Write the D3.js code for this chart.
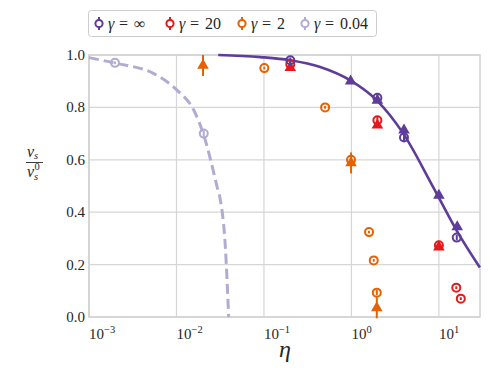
<!DOCTYPE html>
<html>
<head>
<meta charset="utf-8">
<script src="https://cdn.jsdelivr.net/npm/d3@7"></script>
<style>
  body { margin: 0; background: #fff; }
</style>
</head>
<body>
<div id="chart"></div>
<script>
var width = 490, height = 368
var margin = {top: 55, right: 10, bottom: 51, left: 89}
var serif = "'Liberation Serif', 'Times New Roman', Times, 'DejaVu Serif', serif"

// tick values
var xTicks = [1e-3, 1e-2, 1e-1, 1, 10]
var xTickExp = ['\u22123', '\u22122', '\u22121', '0', '1']
var yTicks = [0, 0.2, 0.4, 0.6, 0.8, 1.0]

// gamma = inf model curve
var curveInfEta = [0.030, 0.091, 0.20, 0.44, 0.97, 1.95, 3.92, 8.6, 15.9, 29.4]
var curveInfV = [1.0, 0.992, 0.980, 0.954, 0.903, 0.827, 0.70, 0.496, 0.331, 0.189]

// gamma = 0.04 model curve (dashed)
var curveLowEta = [0.001, 0.00198, 0.00551, 0.0102, 0.0158, 0.0205, 0.0292, 0.0318, 0.0362, 0.0395]
var curveLowV = [0.99, 0.969, 0.929, 0.865, 0.789, 0.694, 0.496, 0.445, 0.267, 0.0]

// gamma = inf points
var infCircEta = [0.2, 1.98, 3.99, 16.0]
var infCircV = [0.98, 0.837, 0.685, 0.303]
var infCircErr = [0.01, 0.012, 0.015, 0.01]
var infTriEta = [0.98, 1.98, 3.99, 10.0, 16.2]
var infTriV = [0.90, 0.827, 0.713, 0.464, 0.344]
var infTriErr = [0.01, 0.01, 0.02, 0.01, 0.01]

// gamma = 20 points
var redCircEta = [0.2, 1.98, 10.0, 15.8, 17.8]
var redCircV = [0.965, 0.751, 0.274, 0.112, 0.070]
var redCircErr = [0.01, 0.015, 0.01, 0.005, 0.005]
var redTriEta = [0.2, 1.98, 10.0]
var redTriV = [0.952, 0.732, 0.267]
var redTriErr = [0.01, 0.01, 0.01]

// gamma = 2 points
var orCircEta = [0.101, 0.50, 0.99, 1.59, 1.80, 1.95]
var orCircV = [0.95, 0.80, 0.60, 0.324, 0.216, 0.093]
var orCircErr = [0.005, 0.005, 0.02, 0.005, 0.005, 0.01]
var orTriEta = [0.0201, 0.99, 1.95]
var orTriV = [0.96, 0.588, 0.035]
var orTriErr = [0.04, 0.04, 0.04]

// gamma = 0.04 points
var lavCircEta = [0.00198, 0.0205]
var lavCircV = [0.97, 0.70]
var lavCircErr = [0.005, 0.01]

var cInf = '#5e3c99', cRed = '#e31a1c', cOr = '#e66101', cLav = '#b2abd2'

var legendLabels = ['\u221e', '20', '2', '0.04']
var legendColors = [cInf, cRed, cOr, cLav]

var svg = d3.select('#chart')
  .append('svg')
  .attr('width', width)
  .attr('height', height)
  .style('font-family', serif)

var xScale = d3.scaleLog()
  .domain([1e-3, 29.5])
  .range([margin.left, width - margin.right])

var yScale = d3.scaleLinear()
  .domain([0, 1])
  .range([height - margin.bottom, margin.top])

// grid
svg.append('g')
  .selectAll('line')
  .data(xTicks)
  .enter()
  .append('line')
  .attr('x1', d => xScale(d)).attr('x2', d => xScale(d))
  .attr('y1', yScale(0)).attr('y2', yScale(1))
  .attr('stroke', '#d6d6d6').attr('stroke-width', 1.2)

svg.append('g')
  .selectAll('line')
  .data(yTicks)
  .enter()
  .append('line')
  .attr('x1', xScale.range()[0]).attr('x2', xScale.range()[1])
  .attr('y1', d => yScale(d)).attr('y2', d => yScale(d))
  .attr('stroke', '#d6d6d6').attr('stroke-width', 1.2)

// frame
svg.append('rect')
  .attr('x', xScale.range()[0])
  .attr('y', yScale(1))
  .attr('width', xScale.range()[1] - xScale.range()[0])
  .attr('height', yScale(0) - yScale(1))
  .attr('fill', 'none')
  .attr('stroke', '#d0d0d0')
  .attr('stroke-width', 1.5)

// tick labels
svg.append('g')
  .selectAll('text')
  .data(yTicks)
  .enter()
  .append('text')
  .attr('x', margin.left - 4)
  .attr('y', d => yScale(d) + 5)
  .attr('text-anchor', 'end')
  .attr('font-size', 15)
  .attr('fill', '#262626')
  .text(d => d.toFixed(1))

var xl = svg.append('g')
  .selectAll('text')
  .data(xTicks)
  .enter()
  .append('text')
  .attr('x', d => xScale(d))
  .attr('y', 339)
  .attr('font-size', 15)
  .attr('fill', '#262626')
xl.append('tspan').text('10')
xl.append('tspan')
  .attr('dy', -6)
  .attr('font-size', 10.5)
  .text((d, i) => xTickExp[i])

// axis labels
svg.append('text')
  .attr('x', 285)
  .attr('y', 357)
  .attr('text-anchor', 'middle')
  .attr('font-size', 24)
  .attr('font-style', 'italic')
  .attr('fill', '#262626')
  .text('\u03b7')

var num = svg.append('text')
  .attr('x', 27).attr('y', 157)
  .attr('font-size', 16).attr('font-style', 'italic')
  .attr('fill', '#262626')
num.append('tspan').text('v')
num.append('tspan').attr('dy', 2).attr('font-size', 10.5).text('s')
svg.append('line')
  .attr('x1', 26).attr('x2', 43)
  .attr('y1', 162.5).attr('y2', 162.5)
  .attr('stroke', '#262626').attr('stroke-width', 0.9)
var den = svg.append('text')
  .attr('x', 27).attr('y', 177)
  .attr('font-size', 16).attr('font-style', 'italic')
  .attr('fill', '#262626')
den.append('tspan').text('v')
den.append('tspan').attr('dy', 3).attr('font-size', 10.5).text('s')
svg.append('text')
  .attr('x', 34.5).attr('y', 170)
  .attr('font-size', 10.5)
  .attr('fill', '#262626')
  .text('0')

// curves
var line = d3.line()
  .x(d => xScale(d[0]))
  .y(d => yScale(d[1]))
  .curve(d3.curveMonotoneX)

svg.append('path')
  .datum(d3.zip(curveLowEta, curveLowV))
  .attr('d', line)
  .attr('fill', 'none')
  .attr('stroke', cLav)
  .attr('stroke-width', 3)
  .attr('stroke-dasharray', '10,5')

svg.append('path')
  .datum(d3.zip(curveInfEta, curveInfV))
  .attr('d', line)
  .attr('fill', 'none')
  .attr('stroke', cInf)
  .attr('stroke-width', 2.6)

var tri = d3.symbol().type(d3.symbolTriangle).size(58)

function errbars(eta, v, err, color) {
  svg.append('g')
    .selectAll('line')
    .data(d3.zip(eta, v, err))
    .enter()
    .append('line')
    .attr('x1', d => xScale(d[0])).attr('x2', d => xScale(d[0]))
    .attr('y1', d => yScale(d[1] - d[2])).attr('y2', d => yScale(d[1] + d[2]))
    .attr('stroke', color).attr('stroke-width', 2)
}

function circles(eta, v, err, color) {
  errbars(eta, v, err, color)
  svg.append('g')
    .selectAll('circle')
    .data(d3.zip(eta, v))
    .enter()
    .append('circle')
    .attr('cx', d => xScale(d[0]))
    .attr('cy', d => yScale(d[1]))
    .attr('r', 4)
    .attr('fill', 'none')
    .attr('stroke', color)
    .attr('stroke-width', 2)
}

function triangles(eta, v, err, color) {
  errbars(eta, v, err, color)
  svg.append('g')
    .selectAll('path')
    .data(d3.zip(eta, v))
    .enter()
    .append('path')
    .attr('d', tri)
    .attr('transform', d => `translate(${xScale(d[0])},${yScale(d[1])})`)
    .attr('fill', color)
}

circles(lavCircEta, lavCircV, lavCircErr, cLav)
circles(orCircEta, orCircV, orCircErr, cOr)
triangles(orTriEta, orTriV, orTriErr, cOr)
circles(redCircEta, redCircV, redCircErr, cRed)
triangles(redTriEta, redTriV, redTriErr, cRed)
circles(infCircEta, infCircV, infCircErr, cInf)
triangles(infTriEta, infTriV, infTriErr, cInf)

// legend
svg.append('rect')
  .attr('x', 88.5).attr('y', 10.5)
  .attr('width', 288).attr('height', 26)
  .attr('rx', 3)
  .attr('fill', '#fff')
  .attr('stroke', '#cccccc')

var legX = [99, 170, 242, 305]
var leg = svg.append('g')
  .selectAll('g')
  .data(legendLabels)
  .enter()
  .append('g')
  .attr('transform', (d, i) => `translate(${legX[i]},23.5)`)
leg.append('line')
  .attr('y1', -6.5).attr('y2', 6.5)
  .attr('stroke', (d, i) => legendColors[i]).attr('stroke-width', 2)
leg.append('circle')
  .attr('r', 3.6)
  .attr('fill', '#fff')
  .attr('stroke', (d, i) => legendColors[i])
  .attr('stroke-width', 2)
var lt = leg.append('text')
  .attr('y', 5)
  .attr('font-size', 16)
  .attr('fill', '#262626')
lt.append('tspan').attr('x', 9).attr('font-style', 'italic').text('\u03b3')
lt.append('tspan').attr('x', 20).text('=')
lt.append('tspan').attr('x', 35).text(d => d)
</script>
</body>
</html>
